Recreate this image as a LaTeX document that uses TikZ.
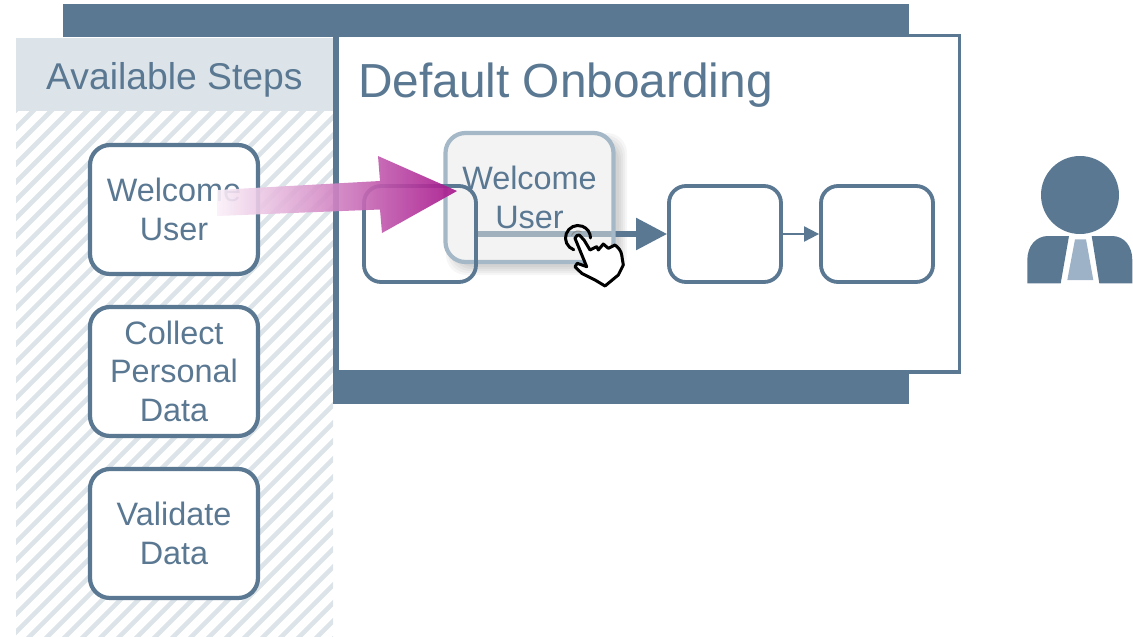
\documentclass[tikz,border=0pt]{standalone}
\usepackage{fontspec}
\setmainfont{Liberation Sans}
\usetikzlibrary{arrows.meta}
\definecolor{slate}{HTML}{5A7892}
\definecolor{panel}{HTML}{DDE4E9}
\definecolor{ghostline}{HTML}{A5B8C8}
\definecolor{tiecol}{HTML}{9DB2C7}
\definecolor{magen}{HTML}{A6128A}
\definecolor{pinkfade}{HTML}{FBF1F9}
\pgfdeclarelayer{base}\pgfdeclarelayer{conn}\pgfdeclarelayer{ghostl}\pgfdeclarelayer{top}
\pgfsetlayers{base,conn,ghostl,main,top}
\tikzset{
  stepbox/.style={draw=slate,line width=4.2pt,rounded corners=20pt,fill=white,align=center,
    text=slate,inner sep=0pt,minimum width=168pt,minimum height=129pt,
    font=\fontsize{32.4}{38.5}\selectfont},
  flowbox/.style={draw=slate,line width=3.8pt,rounded corners=17pt,inner sep=0pt,
    minimum width=112pt,minimum height=96pt},
  ghostbox/.style={stepbox,draw=ghostline,fill=black!9,fill opacity=.5,draw opacity=1,text opacity=1},
  title/.style={text=slate,inner sep=0pt,anchor=base west},
  bigflow/.style={draw=slate,line width=5.5pt,-{Triangle[length=31pt,width=31pt]}},
  smallflow/.style={draw=slate,line width=2pt,-{Triangle[length=15pt,width=15pt]}},
}
\begin{document}
\begin{tikzpicture}[x=1pt,y=-1pt]
\useasboundingbox (0,0) rectangle (1133,637);
\begin{pgfonlayer}{base}
  % hatched panel
  \begin{scope}
    \clip (16,38) rectangle (333,637);
    \foreach \i in {-640,-622,...,340}{
      \draw[panel,line width=4.6pt] (\i,640) -- ++(640,-640);
    }
  \end{scope}
  \fill[panel] (16,38) rectangle (333,111);
  % frame
  \fill[slate] (63,4) rectangle (909,37);
  \fill[slate] (333,372) rectangle (909,404);
  \fill[white] (339,37) rectangle (958.5,371);
  \draw[slate,line width=3.5pt] (336,35.5) -- (959.5,35.5) -- (959.5,372) -- (336,372);
  \fill[slate] (333,36) rectangle (339,374);
  % ghost shadow
  \foreach \k in {8,6,4,2,0}{
    \fill[black,opacity=.035,rounded corners=20pt]
      (454-\k,141-\k) rectangle (619+\k,267+\k);
  }
  \fill[white,rounded corners=20pt] (444,132) rectangle (614,262);
\end{pgfonlayer}

\node[title,font=\fontsize{37.3}{40}\selectfont] (t1) at (46,89) {Available Steps};
\node[title,font=\fontsize{47.8}{50}\selectfont] (t2) at (358,97) {Default Onboarding};

\node[stepbox] (s1) at (174,209.5) {Welcome\\User};
\node[stepbox] (s2) at (174,371.5) {\raisebox{-.8pt}{Collect}\\Personal\\Data};
\node[stepbox] (s3) at (174,533.5) {\raisebox{-.8pt}{Validate}\\\raisebox{-.8pt}{Data}};

\node[flowbox] (f1) at (420,234) {};
\node[flowbox] (f2) at (725,234) {};
\node[flowbox] (f3) at (877,234) {};

\begin{pgfonlayer}{ghostl}
  \node[ghostbox] (g) at (529.5,197.5) {Welcome\\User};
\end{pgfonlayer}
\begin{pgfonlayer}{conn}
  \draw[bigflow] (f1) -- (f2);
  \draw[smallflow] (f2) -- (f3);
\end{pgfonlayer}

\begin{pgfonlayer}{top}
  % magenta block arrow
  \begin{scope}[opacity=.9]
  \shade[left color=pinkfade,right color=magen]
    (217,190) -- (380,181) -- (378,156) -- (457,191) -- (382,233) -- (380,209.5) -- (217,216) -- cycle;
  \end{scope}
  % hand cursor
  \draw[black!45,line width=1pt] (578,238) ++(200:7) arc[start angle=200,end angle=300,radius=7];
  \draw[black,line width=3pt,line cap=round]
    (578,238) ++(110:12.5) arc[start angle=110,end angle=360,radius=12.5];
  \draw[black,fill=white,line width=3pt,line join=round]
    (575,238.3) .. controls (576,235.5) and (578,234.5) .. (579.3,235)
    -- (584,240) -- (590,250) -- (596.7,246.7) -- (598.3,250) -- (603.3,244)
    -- (608.3,248.3) -- (615,245) .. controls (619,248) and (621,251) .. (621.7,255)
    -- (623.3,265) -- (618.3,275) -- (605,286) -- (595,280) -- (581.7,273.3)
    -- (575,266.7) -- (577.3,263.3) -- (586.7,266.7) -- cycle;
\end{pgfonlayer}

% person
\fill[slate] (1080,195) circle[radius=39];
\fill[slate] (1027.3,283.3) -- (1027.3,260) .. controls (1027.3,246) and (1036,236) .. (1048,236)
  -- (1069,236) -- (1060.7,283.3) -- cycle;
\fill[slate] (1132.3,283.3) -- (1132.3,260) .. controls (1132.3,246) and (1124,236) .. (1112,236)
  -- (1091.7,236) -- (1099.3,283.3) -- cycle;
\fill[tiecol] (1075,239.3) -- (1086,239.3) -- (1093.3,280) -- (1067.3,280) -- cycle;
\end{tikzpicture}
\end{document}
